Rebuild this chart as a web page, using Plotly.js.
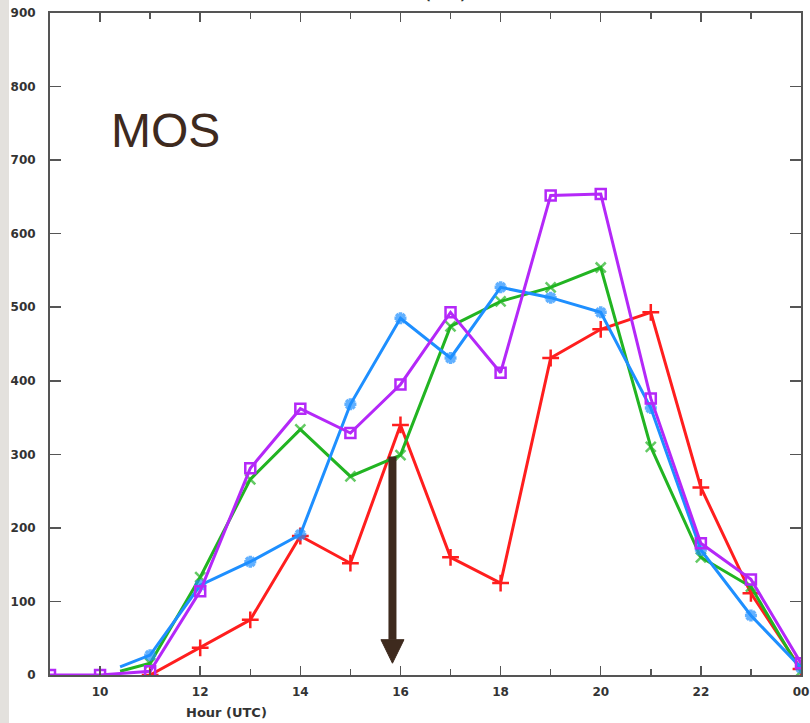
<!DOCTYPE html>
<html>
<head>
<meta charset="utf-8">
<script src="https://cdn.plot.ly/plotly-3.0.1.min.js"></script>
<style>html,body{margin:0;padding:0;background:#fff;}#chart{width:810px;height:723px;}</style>
</head>
<body>
<div id="chart"></div>
<script>
// Hours (UTC); 24 is shown as "00"
const hoursAll = [9, 10, 11, 12, 13, 14, 15, 16, 17, 18, 19, 20, 21, 22, 23, 24];
const hoursRed = [11, 12, 13, 14, 15, 16, 17, 18, 19, 20, 21, 22, 23, 24];
const hoursGB = [10.4, 11, 12, 13, 14, 15, 16, 17, 18, 19, 20, 21, 22, 23, 24];

const redVals    = [0, 37, 75, 189, 152, 340, 160, 125, 431, 470, 493, 255, 111, 8];
const greenVals  = [5, 16, 133, 266, 334, 270, 299, 474, 508, 527, 554, 310, 160, 120, 5];
const blueVals   = [11, 27, 122, 154, 191, 368, 485, 431, 527, 513, 493, 363, 170, 81, 10];
const purpleVals = [0, 0, 5, 114, 281, 362, 329, 395, 493, 411, 652, 654, 376, 179, 130, 16];

const xTickVals = [10, 12, 14, 16, 18, 20, 22, 24];
const xTickText = ["10", "12", "14", "16", "18", "20", "22", "00"];
const yTickVals = [0, 100, 200, 300, 400, 500, 600, 700, 800, 900];

// Annotation arrow (hour, value)
const arrowX = 15.84, arrowTop = 297, arrowHeadBase = 48, arrowTip = 16, arrowHalf = 0.23;

const gbSizes = hoursGB.map((h, i) => i === 0 ? 0 : 10);

const lineW = 3;
const traces = [
  {x: hoursRed, y: redVals, mode: 'lines+markers', line: {color: '#ff1e1e', width: lineW},
   marker: {symbol: 'cross-thin-open', size: 12, color: '#ff1e1e', line: {color: '#ff1e1e', width: 2.5}}},
  {x: hoursGB, y: greenVals, mode: 'lines+markers', line: {color: '#22b422', width: lineW},
   marker: {symbol: 'x-thin-open', size: gbSizes, color: '#22b422', line: {color: '#22b422', width: 2.5}}},
  {x: hoursGB, y: blueVals, mode: 'lines+markers', line: {color: '#1e8fff', width: lineW},
   marker: {symbol: 'asterisk-open', size: gbSizes, color: '#1e8fff', line: {color: '#1e8fff', width: 3.5}}},
  {x: hoursAll, y: purpleVals, mode: 'lines+markers', line: {color: '#b428f8', width: lineW},
   marker: {symbol: 'square-open', size: 10, color: '#b428f8', line: {color: '#b428f8', width: 2.5}}}
];

const axisFont = {family: 'DejaVu Sans', size: 12, color: '#333333', weight: 'bold'};
const titleFont = {family: 'DejaVu Sans', size: 13, color: '#333333', weight: 'bold'};
const brown = '#3e2a1e';

const layout = {
  width: 810, height: 723,
  margin: {l: 50, r: 9, t: 13, b: 48},
  paper_bgcolor: '#ffffff', plot_bgcolor: '#ffffff',
  showlegend: false,
  xaxis: {
    range: [9, 24], tickmode: 'array', tickvals: xTickVals, ticktext: xTickText,
    ticks: 'inside', ticklen: 9, tickwidth: 1.5, tickcolor: '#555555',
    minor: {dtick: 1, tick0: 9, ticks: 'inside', ticklen: 6, tickwidth: 1.5, tickcolor: '#555555'},
    showline: true, linecolor: '#555555', linewidth: 2, mirror: 'ticks',
    showgrid: false, zeroline: false, tickfont: axisFont, ticklabelstandoff: 5
  },
  yaxis: {
    range: [0, 900], tickmode: 'array', tickvals: yTickVals,
    ticks: 'inside', ticklen: 11, tickwidth: 1.5, tickcolor: '#555555',
    showline: true, linecolor: '#555555', linewidth: 2, mirror: 'ticks',
    showgrid: false, zeroline: false, tickfont: axisFont, ticklabelstandoff: 10
  },
  shapes: [
    {type: 'rect', xref: 'paper', yref: 'paper', x0: -50/751, x1: -41/751, y0: -0.2, y1: 1.1,
     fillcolor: '#e3e1dd', line: {width: 0}, layer: 'below'},
    {type: 'line', xref: 'x', yref: 'y', x0: arrowX, x1: arrowX, y0: arrowTop, y1: arrowHeadBase,
     line: {color: brown, width: 8}},
    {type: 'path', xref: 'x', yref: 'y',
     path: 'M ' + (arrowX - arrowHalf) + ',' + arrowHeadBase + ' L ' + (arrowX + arrowHalf) + ',' + arrowHeadBase +
           ' L ' + arrowX + ',' + arrowTip + ' Z',
     fillcolor: brown, line: {color: brown, width: 1}}
  ],
  annotations: [
    {text: 'MOS', xref: 'paper', yref: 'paper', x: (165 - 50) / 751, y: (675 - 131) / 662,
     xanchor: 'center', yanchor: 'middle', showarrow: false,
     font: {family: 'Liberation Sans, Arial, sans-serif', size: 48, color: brown}},
    {text: 'Hour (UTC)', xref: 'paper', yref: 'paper', x: (226 - 50) / 751, y: (675 - 712) / 662,
     xanchor: 'center', yanchor: 'middle', showarrow: false, font: titleFont},
    {text: 'Hour (UTC)', xref: 'paper', yref: 'paper', x: (425 - 50) / 751, y: (675 + 4) / 662,
     xanchor: 'center', yanchor: 'middle', showarrow: false, font: titleFont}
  ]
};

Plotly.newPlot('chart', traces, layout, {displayModeBar: false, staticPlot: true});
</script>
</body>
</html>
